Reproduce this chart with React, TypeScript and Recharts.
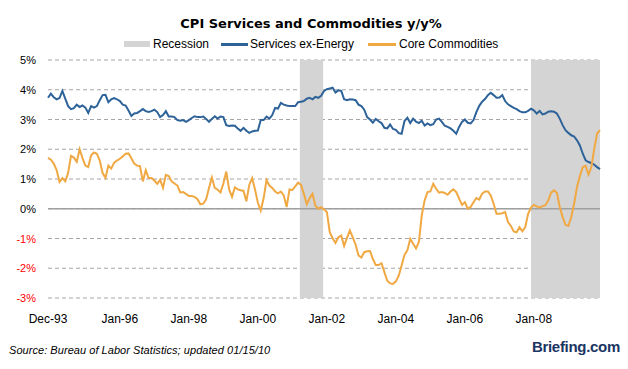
import {
  LineChart,
  Line,
  XAxis,
  YAxis,
  CartesianGrid,
  ReferenceArea,
  ReferenceLine,
} from "recharts";

// monthly y/y %, Dec-93 .. Dec-09
const services = [
  3.73, 3.87, 3.75, 3.68, 3.72, 3.96, 3.7, 3.45, 3.35, 3.38, 3.5, 3.42,
  3.47, 3.4, 3.22, 3.45, 3.4, 3.45, 3.65, 3.82, 3.83, 3.58, 3.68, 3.72,
  3.68, 3.62, 3.5, 3.47, 3.3, 3.12, 3.2, 3.22, 3.28, 3.35, 3.28, 3.25,
  3.28, 3.33, 3.25, 3.08, 3.15, 3.28, 3.1, 3.1, 3.08, 2.98, 2.96, 2.98,
  2.92, 2.98, 3.05, 3.11, 3.08, 3.08, 3.1, 3.02, 2.92, 3.02, 3.11, 3.03,
  3.1, 3.08, 2.81, 2.78, 2.8, 2.79, 2.7, 2.62, 2.72, 2.62, 2.55, 2.6,
  2.62, 2.63, 2.98, 2.98, 3.1, 3.03, 3.15, 3.39, 3.37, 3.56, 3.5, 3.47,
  3.45, 3.45, 3.45, 3.58, 3.6, 3.62, 3.7, 3.73, 3.68, 3.76, 3.73, 3.8,
  3.96, 4.02, 4.04, 4.07, 3.91, 3.98, 3.96, 3.68, 3.65, 3.68, 3.67, 3.65,
  3.5, 3.45, 3.33, 3.08, 3.0, 2.89, 3.02, 2.94, 2.88, 2.72, 2.7, 2.83,
  2.68, 2.65, 2.54, 2.52, 2.95, 3.06, 2.88, 3.03, 2.93, 2.88, 2.96, 2.8,
  2.87, 2.81, 2.84, 3.0, 3.03, 2.92, 2.79, 2.75, 2.7, 2.62, 2.52, 2.75,
  2.92, 3.0, 2.89, 2.87, 2.98, 3.25, 3.46, 3.6, 3.69, 3.82, 3.9, 3.82,
  3.73, 3.74, 3.82, 3.62, 3.51, 3.45, 3.39, 3.35, 3.28, 3.24, 3.24, 3.29,
  3.36, 3.31, 3.2, 3.29, 3.17, 3.2, 3.26, 3.28, 3.26, 3.2, 3.03, 2.81,
  2.64, 2.55, 2.47, 2.43, 2.3, 2.13, 1.85, 1.63, 1.57, 1.54, 1.48, 1.4,
  1.33,
];

const commodities = [
  1.71, 1.65, 1.52, 1.3, 0.9, 1.03, 0.92, 1.2, 1.78, 1.72, 1.58, 2.0,
  1.7, 1.45, 1.4, 1.8, 1.89, 1.85, 1.62, 1.2, 1.04, 1.45, 1.35, 1.55,
  1.62, 1.68, 1.76, 1.85, 1.86, 1.7, 1.52, 1.45, 1.43, 0.92, 1.3, 1.03,
  1.03, 0.95, 0.84, 0.98, 0.7, 1.14, 1.1, 0.92, 0.85, 0.78, 0.55, 0.56,
  0.5, 0.43, 0.43, 0.4, 0.32, 0.15, 0.17, 0.32, 0.7, 1.05, 0.7, 0.64,
  0.55, 0.85, 1.25, 0.65, 0.4, 0.72, 0.65, 0.62, 0.6, 0.25, 0.8, 1.03,
  0.65, 0.2, -0.06, 0.35, 0.96, 0.78, 0.7, 0.58, 0.52, 0.58, 0.45, 0.06,
  0.65, 0.63, 0.75, 0.88, 0.8, 0.5, 0.15, 0.35, 0.5, 0.1, 0.0, 0.05,
  -0.02, -0.11, -0.79, -0.99, -1.15, -0.96, -0.9, -1.25, -0.98, -0.73, -0.96, -1.21,
  -1.57, -1.64, -1.46, -1.43, -1.42, -1.69, -1.89, -1.89, -1.83, -2.13, -2.42, -2.51,
  -2.53, -2.44, -2.25, -1.91, -1.55, -1.4, -1.01, -1.18, -1.33, -1.12, -0.22, 0.28,
  0.56, 0.58, 0.84, 0.67, 0.54, 0.56, 0.53, 0.47, 0.58, 0.65, 0.56, 0.34,
  0.13, 0.22, 0.0, 0.06, 0.22, 0.36, 0.31, 0.51, 0.58, 0.58, 0.45, 0.17,
  -0.17, -0.17, -0.15, -0.11, -0.45, -0.58, -0.76, -0.79, -0.62, -0.76, -0.62, -0.17,
  0.04, 0.13, 0.08, 0.04, 0.09, 0.12, 0.28, 0.54, 0.62, 0.54, 0.06, -0.28,
  -0.54, -0.58, -0.28, 0.17, 0.73, 1.1, 1.4, 1.44, 1.15, 1.4, 2.02, 2.53,
  2.64,
];

const tickMonths = [0, 25, 49, 73, 97, 121, 145, 169];
const tickLabels = ["Dec-93", "Jan-96", "Jan-98", "Jan-00", "Jan-02", "Jan-04", "Jan-06", "Jan-08"];
const yTicks = [-3, -2, -1, 0, 1, 2, 3, 4, 5];

// recession spans in month index (from Dec-93)
const recessions = [
  { start: 87.6, end: 95.7 },
  { start: 168, end: 192 },
];

const BLUE = "#2d6399";
const ORANGE = "#f0a843";
const BAND = "#d4d4d4";
const FONT = "'Liberation Sans', Arial, sans-serif";

const data = services.map((s, i) => ({
  month: i,
  services: s,
  commodities: commodities[i],
}));

function YTick({ x, y, payload }: any) {
  const v = payload.value;
  return (
    <text
      x={x}
      y={y}
      dy={4}
      textAnchor="end"
      fontSize={11}
      fontFamily={FONT}
      fill={v < 0 ? "#ff0000" : "#000"}
    >
      {v}%
    </text>
  );
}

function XTick({ x, y, payload }: any) {
  const k = tickMonths.indexOf(payload.value);
  return (
    <text x={x} y={y} dy={9} textAnchor="middle" fontSize={12} fontFamily={FONT} fill="#000">
      {tickLabels[k]}
    </text>
  );
}

export default function App() {
  return (
    <div
      style={{
        position: "absolute",
        left: 0,
        top: 0,
        width: 628,
        height: 369,
        background: "#fff",
        fontFamily: FONT,
      }}
    >
      <div
        style={{
          position: "absolute",
          left: 0,
          width: 622,
          top: 15,
          textAlign: "center",
          fontFamily: "'DejaVu Sans', Verdana, sans-serif",
          fontWeight: "bold",
          fontSize: 13,
          lineHeight: "18px",
        }}
      >
        CPI Services and Commodities y/y%
      </div>

      {/* legend */}
      <div style={{ position: "absolute", left: 124, top: 41, width: 26, height: 6, background: BAND }} />
      <div style={{ position: "absolute", left: 153, top: 37, fontSize: 12, lineHeight: "14px" }}>Recession</div>
      <div style={{ position: "absolute", left: 221, top: 43, width: 27, height: 2.5, background: BLUE }} />
      <div style={{ position: "absolute", left: 250, top: 37, fontSize: 12, lineHeight: "14px" }}>Services ex-Energy</div>
      <div style={{ position: "absolute", left: 368, top: 43, width: 28, height: 2.5, background: ORANGE }} />
      <div style={{ position: "absolute", left: 399, top: 37, fontSize: 12, lineHeight: "14px" }}>Core Commodities</div>

      <LineChart
        width={628}
        height={369}
        data={data}
        margin={{ top: 60, right: 28, bottom: 41, left: 0 }}
      >
        <CartesianGrid vertical={false} stroke="#a8a4a8" strokeDasharray="4 3" />
        {recessions.map((r, i) => (
          <ReferenceArea
            key={i}
            x1={r.start}
            x2={r.end}
            fill={BAND}
            fillOpacity={1}
            stroke="none"
            ifOverflow="hidden"
          />
        ))}
        <ReferenceLine y={0} stroke="#a0a0a0" strokeWidth={1.3} />
        <XAxis
          dataKey="month"
          type="number"
          domain={[0, 192]}
          ticks={tickMonths}
          tick={<XTick />}
          tickLine={false}
          axisLine={false}
          tickSize={0}
          tickMargin={16}
          height={30}
          interval={0}
        />
        <YAxis
          domain={[-3, 5]}
          ticks={yTicks}
          tick={<YTick />}
          tickLine={false}
          axisLine={false}
          tickSize={0}
          tickMargin={12}
          width={48}
          interval={0}
        />
        <Line
          type="linear"
          dataKey="services"
          stroke={BLUE}
          strokeWidth={2}
          dot={false}
          isAnimationActive={false}
        />
        <Line
          type="linear"
          dataKey="commodities"
          stroke={ORANGE}
          strokeWidth={2}
          dot={false}
          isAnimationActive={false}
        />
      </LineChart>

      <div
        style={{
          position: "absolute",
          left: 9,
          top: 343,
          fontSize: 11,
          fontStyle: "italic",
          lineHeight: "14px",
          letterSpacing: "0.05px",
        }}
      >
        Source: Bureau of Labor Statistics; updated 01/15/10
      </div>
      <div
        style={{
          position: "absolute",
          right: 8,
          top: 338,
          fontSize: 15,
          fontWeight: "bold",
          color: "#1a3562",
          lineHeight: "18px",
          letterSpacing: "-0.3px",
        }}
      >
        Briefing.com
      </div>
    </div>
  );
}
